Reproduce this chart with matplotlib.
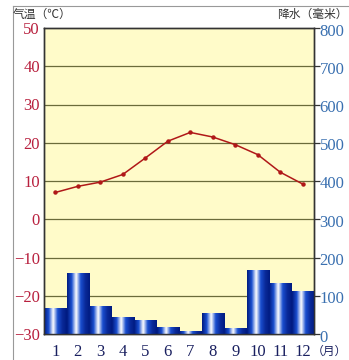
import numpy as np
import matplotlib.pyplot as plt
import matplotlib.transforms as mtransforms
from matplotlib.colors import LinearSegmentedColormap
from matplotlib.lines import Line2D

plt.rcParams['font.family'] = ['Liberation Serif', 'Noto Sans CJK SC', 'DejaVu Sans']

months = np.arange(1, 13)
month_labels = [str(m) for m in months]
temperature = [7.0, 8.6, 9.7, 11.7, 16.0, 20.4, 22.7, 21.5, 19.5, 16.9, 12.3, 9.2]
precipitation = [67, 158, 71, 42, 36, 17, 6, 54, 15, 166, 132, 110]

temp_ticks = list(range(-30, 51, 10))
rain_ticks = list(range(0, 801, 100))

fig = plt.figure(figsize=(3.49, 3.6), dpi=100)
ax = fig.add_axes([44/349, 26/360, 270/349, 306/360])
ax.set_facecolor('#fffbc9')

ax.set_xlim(0.5, 12.5)
ax.set_ylim(-30, 50)

# horizontal guide lines
for t in temp_ticks[1:-1]:
    ax.axhline(t, color='#6b6b3a', lw=0.9, zorder=1)

ax2 = ax.twinx()
ax2.set_ylim(0, 800)

# gradient bars
bar_cmap = LinearSegmentedColormap.from_list(
    'bar', ['#001a80', '#1a4fd0', '#ffffff', '#1a4fd0', '#0a2a9a', '#001a80'])
grad = np.linspace(0, 1, 64).reshape(1, -1)
for m, p in zip(months, precipitation):
    ax2.imshow(grad, cmap=bar_cmap, aspect='auto',
               extent=[m - 0.5, m + 0.5, 0, p], zorder=2, interpolation='bilinear')
ax2.set_xlim(0.5, 12.5)
ax2.set_ylim(0, 800)

ax2.plot(months, np.array(temperature) * 10 + 300, color='#b01818', lw=1.1,
         marker='o', ms=2.2, zorder=4)

ax.set_xticks(months)
ax.set_xticklabels(month_labels, fontsize=12, color='#1a2060')
ax.tick_params(axis='x', length=0, pad=7)
ax.set_yticks(temp_ticks)
ax.set_yticklabels([str(t).replace('-', '\u2212') for t in temp_ticks],
                   fontsize=12, color='#b8203e')
ax.tick_params(axis='y', length=0, pad=3)

ax2.set_yticks(rain_ticks)
ax2.set_yticklabels([str(r) for r in rain_ticks], fontsize=12, color='#3a70b0')
ax2.tick_params(axis='y', length=4, width=0.9, color='#333333', pad=0)
# right labels sit a touch below their ticks
shift = mtransforms.ScaledTranslation(0, -1.5/100, fig.dpi_scale_trans)
for lbl in ax2.get_yticklabels():
    lbl.set_transform(lbl.get_transform() + shift)
ax2.set_facecolor('none')

for a in (ax, ax2):
    for s in a.spines.values():
        s.set_color('#333333')
        s.set_linewidth(1.0)

fig.text(312/349, 1 - 351/360, '（月）', fontsize=8.5, color='#1a2060',
         family=['Noto Sans CJK SC'], va='center', ha='left')
fig.text(13/349, 1 - 14/360, '气温（℃）', fontsize=8.5, color='#333333',
         family=['Noto Sans CJK SC', 'DejaVu Sans'], va='center', ha='left')
fig.text(348/349, 1 - 14/360, '降水（毫米）', fontsize=8.5, color='#333333',
         family=['Noto Sans CJK SC'], va='center', ha='right')

# outer frame
fig.add_artist(Line2D([13/349, 1], [1 - 6/360, 1 - 6/360], color='#999999', lw=0.8))
fig.add_artist(Line2D([13/349, 13/349], [0, 1 - 6/360], color='#999999', lw=0.8))

fig.savefig('out.png', dpi=100)
